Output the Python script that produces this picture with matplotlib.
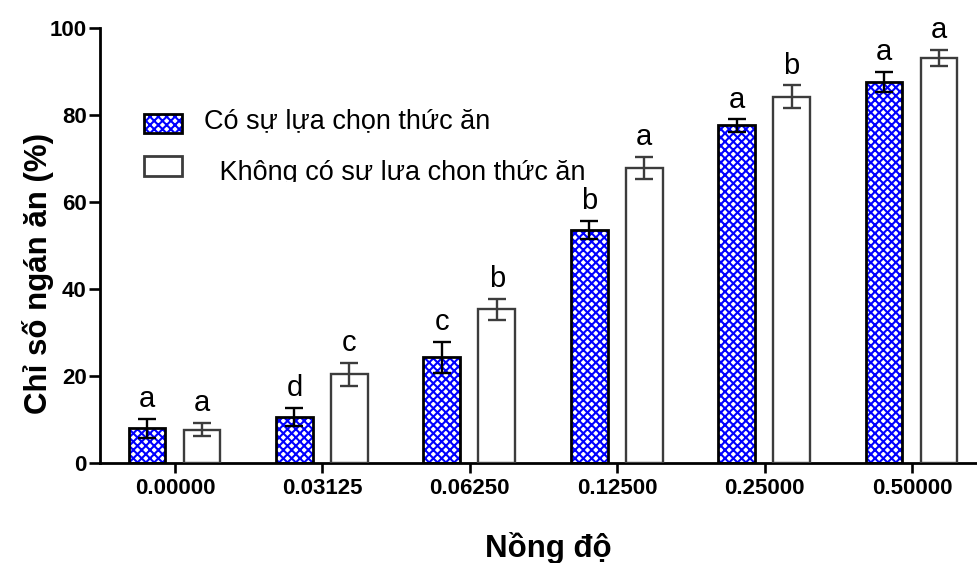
import matplotlib
matplotlib.use("Agg")
import matplotlib.pyplot as plt
from matplotlib.patches import Rectangle
import numpy as np

plt.rcParams['font.family'] = ['Liberation Sans', 'DejaVu Sans']
plt.rcParams['hatch.linewidth'] = 1.5

categories = ["0.00000", "0.03125", "0.06250", "0.12500", "0.25000", "0.50000"]
choice_mean = [8.0, 10.5, 24.3, 53.5, 77.6, 87.6]
choice_err = [2.2, 2.1, 3.6, 2.1, 1.4, 2.3]
nochoice_mean = [7.7, 20.4, 35.3, 67.8, 84.2, 93.1]
nochoice_err = [1.6, 2.7, 2.5, 2.5, 2.6, 1.9]
choice_letters = ["a", "d", "c", "b", "a", "a"]
nochoice_letters = ["a", "c", "b", "a", "b", "a"]
legend_labels = ["Có sự lựa chọn thức ăn", " Không có sự lựa chọn thức ăn"]
ylabel = "Chỉ số ngán ăn (%)"
xlabel = "Nồng độ"
yticks = [0, 20, 40, 60, 80, 100]

W, H = 978, 563
fig = plt.figure(figsize=(W / 100, H / 100), dpi=100)
ax = fig.add_axes([100 / W, 1 - 463 / H, 878 / W, 435 / H])

x = np.arange(len(categories))
bw = 0.25
xb = x - 0.19
xw = x + 0.183

HATCH = 'xxxx'

# blue checkered bars: white face with dense blue hatch, then black outline
ax.bar(xb, choice_mean, bw, color='white', edgecolor='#0000ff', hatch=HATCH,
       linewidth=0, zorder=2)
ax.bar(xb, choice_mean, bw, fill=False, edgecolor='black', linewidth=2.0, zorder=3)
ax.bar(xw, nochoice_mean, bw, color='white', edgecolor='#3c3c3c', linewidth=1.7, zorder=3)

ax.errorbar(xb, choice_mean, yerr=choice_err, fmt='none', ecolor='black',
            elinewidth=1.7, capsize=6.8, capthick=1.7, zorder=4)
ax.errorbar(xw, nochoice_mean, yerr=nochoice_err, fmt='none', ecolor='#3c3c3c',
            elinewidth=1.7, capsize=6.8, capthick=1.7, zorder=4)

for xi, m, e, s in zip(xb, choice_mean, choice_err, choice_letters):
    ax.annotate(s, (xi, m + e), xytext=(0, 8.5), textcoords='offset points',
                ha='center', va='baseline', fontsize=21, clip_on=False)
for xi, m, e, s in zip(xw, nochoice_mean, nochoice_err, nochoice_letters):
    ax.annotate(s, (xi, m + e), xytext=(0, 8.5), textcoords='offset points',
                ha='center', va='baseline', fontsize=21, clip_on=False)

ax.set_xlim((100 - 175) / 147.4, (978 - 175) / 147.4)
ax.set_ylim(0, 100)
ax.set_yticks(yticks)
ax.set_xticks(x)
ax.set_xticklabels(categories)
for lab in ax.get_xticklabels() + ax.get_yticklabels():
    lab.set_fontweight('bold')
    lab.set_fontsize(16)
ax.tick_params(axis='y', length=8, width=1.9, pad=1.5, color='black')
ax.tick_params(axis='x', length=7, width=1.9, pad=4, color='black')

for sp in ['top', 'right']:
    ax.spines[sp].set_visible(False)
for sp in ['left', 'bottom']:
    ax.spines[sp].set_linewidth(2.0)
    ax.spines[sp].set_color('black')

ax.set_ylabel(ylabel, fontsize=22.5, fontweight='bold')
ax.yaxis.set_label_coords((54 - 100) / 878, 0.436)
ax.set_xlabel(xlabel, fontsize=22.5, fontweight='bold')
ax.xaxis.set_label_coords(0.511, (463 - 532) / 435)

# manual legend (pixel positions converted to figure fractions)
def fx(px):
    return px / W

def fy(py):
    return 1 - py / H

r1a = Rectangle((fx(144), fy(133)), fx(182) - fx(144), fy(114) - fy(133),
                transform=fig.transFigure, facecolor='white', edgecolor='#0000ff',
                hatch=HATCH, linewidth=0)
r1b = Rectangle((fx(144), fy(133)), fx(182) - fx(144), fy(114) - fy(133),
                transform=fig.transFigure, fill=False, edgecolor='black', linewidth=2.0)
r2 = Rectangle((fx(144), fy(176)), fx(182) - fx(144), fy(156) - fy(176),
               transform=fig.transFigure, facecolor='white', edgecolor='#3c3c3c',
               linewidth=2.0)
for r in (r1a, r1b, r2):
    fig.add_artist(r)

fig.text(fx(204), fy(128), legend_labels[0], fontsize=19.5, va='baseline', ha='left')
t2 = fig.text(fx(212), fy(180), legend_labels[1], fontsize=19.5, va='baseline', ha='left')
clip = Rectangle((0, fy(181.5)), 1, 1, transform=fig.transFigure, visible=False)
fig.add_artist(clip)
t2.set_clip_on(True)
t2.set_clip_path(clip)

fig.savefig("out.png", dpi=100)
